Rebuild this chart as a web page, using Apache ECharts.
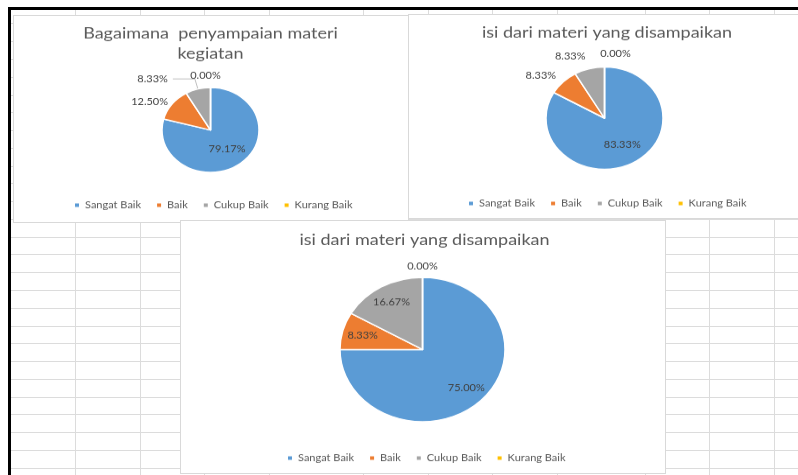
<!doctype html>
<html lang="en">
<head>
<meta charset="UTF-8">
<title>Evaluasi kegiatan</title>
<style>
    html, body { margin: 0; padding: 0; overflow: hidden; background: #fff; }
    #sheet { position: absolute; left: 11px; top: 10px; width: 787px; height: 465px; overflow: hidden; }
    .gl { position: absolute; background: #dcdcdc; }
    #frame { position: absolute; left: 8px; top: 7px; width: 790px; height: 468px;
             border-top: 3px solid #000; border-left: 3px solid #000; box-sizing: border-box; }
    .box { position: absolute; background: #fff; border: 1px solid #d9d9d9; box-sizing: border-box; }
    /* the screenshot is squashed vertically, so the chart is drawn taller and scaled down */
    #chart { position: absolute; left: 0; top: 0; width: 798px; height: 543px;
             transform: scaleY(0.875); transform-origin: 0 0; }
</style>
</head>
<body>
<div id="sheet"></div>
<div id="frame"></div>
<div class="box" style="left:13px;top:15px;width:396px;height:208px"></div>
<div class="box" style="left:408px;top:14px;width:392px;height:205px"></div>
<div class="box" style="left:180px;top:220px;width:486px;height:254px"></div>
<div id="chart"></div>

<script src="https://cdn.jsdelivr.net/npm/echarts@6/dist/echarts.min.js"></script>
<script>
    // data (percent)
    var names = ['Sangat Baik', 'Baik', 'Cukup Baik', 'Kurang Baik'];
    var penyampaian = [79.17, 12.50, 8.33, 0.00];
    var isiMateriA = [83.33, 8.33, 8.33, 0.00];
    var isiMateriB = [75.00, 8.33, 16.67, 0.00];
    var titles = ['Bagaimana  penyampaian materi\nkegiatan',
                  'isi dari materi yang disampaikan',
                  'isi dari materi yang disampaikan'];

    var colors = ['#5b9bd5', '#ed7d31', '#a5a5a5', '#ffc000'];
    var font = 'Lato, "Noto Sans", sans-serif';

    // spreadsheet grid behind the charts
    var sheet = document.getElementById('sheet');
    var colX = [75, 140, 204, 269, 363, 428, 492, 557, 645, 709, 774];
    colX.forEach(function (x) {
        var d = document.createElement('div');
        d.className = 'gl';
        d.style.cssText = 'left:' + (x - 11) + 'px;top:0;width:1px;height:465px';
        sheet.appendChild(d);
    });
    for (var y = 23.46; y < 475; y += 17.77) {
        var d = document.createElement('div');
        d.className = 'gl';
        d.style.cssText = 'left:0;top:' + (y - 10) + 'px;width:787px;height:1px';
        sheet.appendChild(d);
    }

    // per chart label placement
    var labelStyle = [
        { spot: ['inside', 'outside', 'outside', 'outside'], line: [false, false, true, false],
          len: [0, 5, 12, 14], len2: [0, 0, 22, 0], gap: [5, 0, 5, 0], push: 1.0, zeroShift: -5 },
        { spot: ['inside', 'outside', 'outside', 'outside'], line: [false, false, false, false],
          len: [0, 10, 15, 15], len2: [0, 0, 0, 0], gap: [5, 0, 0, 0], push: 1.1, zeroShift: 11 },
        { spot: ['inside', 'inside', 'inside', 'outside'], line: [false, false, false, false],
          len: [0, 0, 0, 12], len2: [0, 0, 0, 0], gap: [5, 5, 5, 0], push: 1.4, zeroShift: 0 }
    ];

    function pieSeries(k, values, center, radius) {
        var st = labelStyle[k];
        return {
            type: 'pie',
            center: center,
            radius: radius,
            startAngle: 90,
            avoidLabelOverlap: false,
            animation: false,
            itemStyle: { borderColor: '#fff', borderWidth: 1.5 },
            label: {
                fontFamily: font, fontSize: 11, color: '#404040',
                formatter: function (p) { return p.value.toFixed(2) + '%'; }
            },
            labelLine: { lineStyle: { color: '#bfbfbf', width: 1 } },
            emphasis: { scale: false },
            data: names.map(function (n, i) {
                return {
                    name: n,
                    value: values[i],
                    label: { position: st.spot[i], distanceToLabelLine: st.gap[i] },
                    labelLine: { show: st.line[i], length: st.len[i], length2: st.len2[i] }
                };
            }),
            labelLayout: function (p) {
                var r = p.labelRect;
                var lx = r.x + r.width / 2, ly = r.y + r.height / 2;
                if (values[p.dataIndex] === 0) {
                    // empty slice at twelve o'clock: label sits above the top of the pie
                    return { x: center[0] + st.zeroShift, align: 'center' };
                }
                if (st.spot[p.dataIndex] !== 'inside') return {};
                return {
                    x: center[0] + (lx - center[0]) * st.push,
                    y: center[1] + (ly - center[1]) * st.push
                };
            }
        };
    }

    function titleAt(i, x, top) {
        return {
            text: titles[i], left: x, top: top, textAlign: 'center', padding: 0,
            textStyle: { fontFamily: font, fontSize: 18, fontWeight: 'normal', color: '#595959', lineHeight: 23 }
        };
    }

    function legendAt(x, top) {
        return {
            data: names, left: x, top: top, padding: 0, icon: 'rect',
            itemWidth: 6, itemHeight: 6, itemGap: 14, selectedMode: false,
            textStyle: { fontFamily: font, fontSize: 11, color: '#595959' }
        };
    }

    var option = {
        color: colors,
        title: [titleAt(0, 210.5, 27), titleAt(1, 607, 26), titleAt(2, 424.5, 263)],
        legend: [legendAt(73, 229), legendAt(467, 227), legendAt(286, 518)],
        series: [
            pieSeries(0, penyampaian, [210.5, 148.6], 48.5),
            pieSeries(1, isiMateriA, [604.5, 135], 58.5),
            pieSeries(2, isiMateriB, [422.5, 399.4], 82.5)
        ]
    };

    var chart = echarts.init(document.getElementById('chart'));
    chart.setOption(option);
</script>
</body>
</html>
